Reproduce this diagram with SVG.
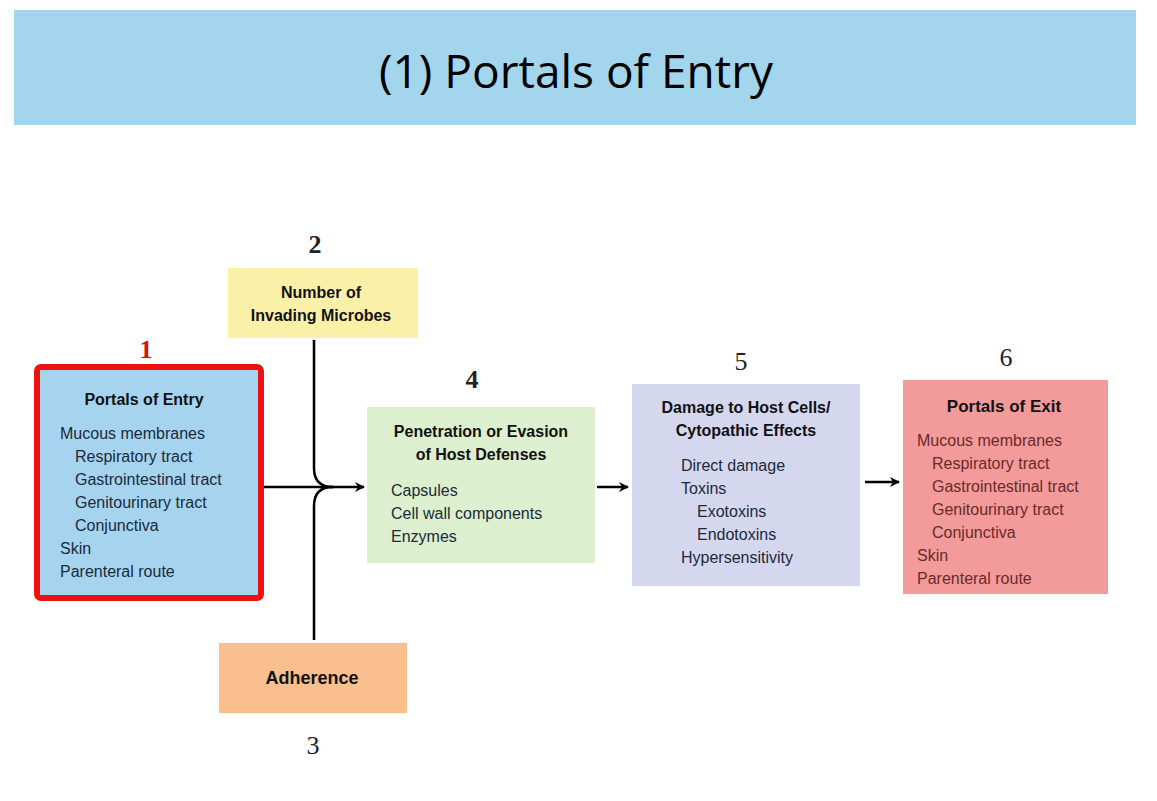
<svg xmlns="http://www.w3.org/2000/svg" width="1157" height="801" viewBox="0 0 1157 801">
<style>
.t{font-family:"Liberation Sans",Arial,sans-serif;font-size:16px;fill:#1a2a3a}
.b{font-family:"Liberation Sans",Arial,sans-serif;font-size:16px;font-weight:bold;fill:#111;text-anchor:middle}
.n{font-family:"Liberation Serif","Times New Roman",serif;font-size:26px;font-weight:bold;text-anchor:middle;fill:#222}
.c{fill:none;stroke:#000;stroke-width:2.5}
</style>
<defs><marker id="ar" markerWidth="10" markerHeight="10" refX="9" refY="5" orient="auto" markerUnits="userSpaceOnUse"><path d="M0,0 L10,5 L0,10 L3,5 Z" fill="#000"/></marker></defs>
<rect width="1157" height="801" fill="#fff"/>
<g id="title"><rect x="14" y="10" width="1122" height="115" fill="#a3d5ec"/>
<text x="576" y="88" font-family="'Open Sans','Liberation Sans',sans-serif" font-size="46" text-anchor="middle" fill="#000">(1) Portals of Entry</text></g>
<g id="node1"><text class="n" x="146" y="358" fill="#e01010" style="fill:#e01010">1</text>
<rect x="37" y="367" width="224" height="231" rx="4" fill="#a6d4ef" stroke="#ee1111" stroke-width="6"/>
<text class="b" x="144" y="405">Portals of Entry</text>
<text class="t" x="60" y="439">Mucous membranes</text>
<text class="t" x="75" y="462">Respiratory tract</text>
<text class="t" x="75" y="485">Gastrointestinal tract</text>
<text class="t" x="75" y="508">Genitourinary tract</text>
<text class="t" x="75" y="531">Conjunctiva</text>
<text class="t" x="60" y="554">Skin</text>
<text class="t" x="60" y="577">Parenteral route</text></g>
<g id="node2"><text class="n" x="315" y="253">2</text>
<rect x="228" y="268" width="190" height="70" fill="#fbf0a8"/>
<text class="b" x="321" y="298">Number of</text><text class="b" x="321" y="321">Invading Microbes</text></g>
<g id="node3"><rect x="219" y="643" width="188" height="70" fill="#f9bf8e"/>
<text class="b" x="312" y="684" style="font-size:18px">Adherence</text>
<text class="n" x="313" y="754" style="font-weight:normal">3</text></g>
<g id="node4"><text class="n" x="472" y="388">4</text>
<rect x="367" y="407" width="228" height="156" fill="#dcefcf"/>
<text class="b" x="481" y="437">Penetration or Evasion</text><text class="b" x="481" y="460">of Host Defenses</text>
<text class="t" x="391" y="496">Capsules</text><text class="t" x="391" y="519">Cell wall components</text><text class="t" x="391" y="542">Enzymes</text></g>
<g id="node5"><text class="n" x="741" y="370" style="font-weight:normal">5</text>
<rect x="632" y="384" width="228" height="202" fill="#d5d7ef"/>
<text class="b" x="746" y="413">Damage to Host Cells/</text><text class="b" x="746" y="436">Cytopathic Effects</text>
<text class="t" x="681" y="471">Direct damage</text><text class="t" x="681" y="494">Toxins</text><text class="t" x="697" y="517">Exotoxins</text><text class="t" x="697" y="540">Endotoxins</text><text class="t" x="681" y="563">Hypersensitivity</text></g>
<g id="node6"><text class="n" x="1006" y="366" style="font-weight:normal">6</text>
<rect x="903" y="380" width="205" height="214" fill="#f39a9a"/>
<text class="b" x="1004" y="412" style="font-size:17px">Portals of Exit</text>
<g style="fill:#6a2a2a"><text class="t" x="917" y="446" style="fill:#6a2a2a">Mucous membranes</text>
<text class="t" x="932" y="469" style="fill:#6a2a2a">Respiratory tract</text>
<text class="t" x="932" y="492" style="fill:#6a2a2a">Gastrointestinal tract</text>
<text class="t" x="932" y="515" style="fill:#6a2a2a">Genitourinary tract</text>
<text class="t" x="932" y="538" style="fill:#6a2a2a">Conjunctiva</text>
<text class="t" x="917" y="561" style="fill:#6a2a2a">Skin</text>
<text class="t" x="917" y="584" style="fill:#6a2a2a">Parenteral route</text></g></g>
<g id="connectors">
<path class="c" d="M264,487 H364" marker-end="url(#ar)"/>
<path class="c" d="M314,340 V468 Q314,487 333,487"/>
<path class="c" d="M314,640 V506 Q314,487 333,487"/>
<path class="c" d="M597,487 H628" marker-end="url(#ar)"/>
<path class="c" d="M865,482 H899" marker-end="url(#ar)"/>
</g>
</svg>
